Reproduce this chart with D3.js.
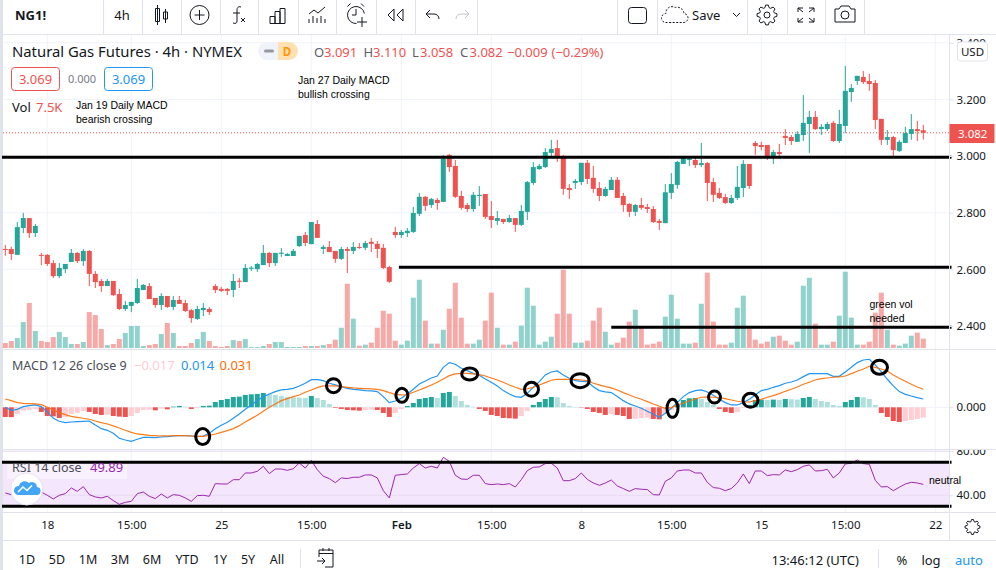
<!DOCTYPE html>
<html lang="en">
<head>
<meta charset="UTF-8">
<title>Natural Gas Futures 4h</title>
<script src="https://d3js.org/d3.v7.min.js"></script>
<style>
  html, body { margin: 0; padding: 0; background: #fff; overflow: hidden; }
  svg { display: block; }
  text { font-family: "Noto Sans", sans-serif; fill: #131722; }
  .note { font-family: "Liberation Sans", sans-serif; font-size: 10.5px; fill: #000; }
</style>
</head>
<body>
<svg id="chart" width="996" height="570"></svg>
<script>
// candles
const opens = [2.672,2.672,2.651,2.746,2.781,2.728,2.651,2.651,2.622,2.576,
  2.601,2.626,2.658,2.629,2.665,2.584,2.559,2.541,2.559,2.513,
  2.460,2.471,2.481,2.527,2.541,2.499,2.474,2.506,2.467,2.492,
  2.481,2.456,2.425,2.456,2.460,2.541,2.531,2.531,2.527,2.560,
  2.555,2.602,2.601,2.615,2.658,2.622,2.655,2.647,2.647,2.682,
  2.721,2.689,2.760,2.672,2.679,2.665,2.637,2.672,2.665,2.679,
  2.676,2.697,2.690,2.676,2.608,2.732,2.721,2.728,2.732,2.796,
  2.856,2.827,2.845,2.838,3.004,2.965,2.859,2.827,2.813,2.859,
  2.866,2.788,2.771,2.778,2.767,2.781,2.757,2.803,2.905,2.954,
  2.961,3.011,3.028,2.993,2.887,2.905,2.908,2.976,2.923,2.887,
  2.859,2.880,2.916,2.859,2.831,2.803,2.827,2.820,2.813,2.771,
  2.763,2.870,2.898,2.972,2.986,2.986,2.968,2.975,2.908,2.870,
  2.855,2.834,2.852,2.887,2.972,3.046,3.039,3.039,2.997,3.014,
  3.071,3.067,3.050,3.074,3.113,3.138,3.095,3.095,3.117,3.053,
  3.106,3.226,3.265,3.279,3.265,3.258,3.131,3.057,3.067,3.018,
  3.046,3.078,3.095,3.091];
const highs = [2.686,2.680,2.767,2.799,2.781,2.760,2.658,2.654,2.633,2.622,
  2.619,2.672,2.661,2.672,2.668,2.594,2.566,2.566,2.559,2.531,
  2.488,2.485,2.566,2.548,2.552,2.499,2.516,2.506,2.506,2.506,
  2.492,2.460,2.471,2.481,2.467,2.548,2.538,2.534,2.584,2.569,
  2.619,2.612,2.622,2.686,2.661,2.658,2.675,2.658,2.672,2.718,
  2.732,2.767,2.774,2.686,2.700,2.665,2.679,2.679,2.697,2.693,
  2.700,2.711,2.700,2.690,2.612,2.750,2.739,2.746,2.820,2.870,
  2.859,2.852,2.852,3.004,3.007,2.986,2.877,2.834,2.873,2.894,
  2.866,2.841,2.806,2.778,2.792,2.781,2.827,2.912,2.979,2.972,
  3.028,3.057,3.057,3.004,2.901,2.919,2.976,2.986,2.965,2.908,
  2.891,2.926,2.926,2.870,2.834,2.831,2.852,2.831,2.824,2.778,
  2.901,2.940,2.983,2.997,2.997,2.997,3.046,2.979,2.923,2.887,
  2.866,2.863,2.965,2.986,2.972,3.053,3.050,3.039,3.021,3.043,
  3.095,3.074,3.088,3.215,3.159,3.159,3.113,3.120,3.124,3.163,
  3.318,3.254,3.283,3.300,3.290,3.268,3.131,3.092,3.071,3.057,
  3.103,3.148,3.124,3.110];
const lows = [2.648,2.633,2.651,2.728,2.711,2.714,2.615,2.612,2.569,2.569,
  2.587,2.626,2.622,2.612,2.541,2.534,2.520,2.541,2.506,2.456,
  2.453,2.449,2.478,2.527,2.495,2.464,2.456,2.464,2.456,2.478,
  2.449,2.411,2.421,2.435,2.439,2.516,2.520,2.509,2.502,2.534,
  2.555,2.594,2.591,2.615,2.608,2.612,2.644,2.647,2.647,2.679,
  2.682,2.689,2.711,2.654,2.661,2.623,2.633,2.587,2.654,2.672,
  2.668,2.661,2.640,2.601,2.552,2.711,2.711,2.714,2.728,2.788,
  2.806,2.817,2.810,2.838,2.944,2.852,2.810,2.803,2.803,2.824,
  2.778,2.746,2.757,2.760,2.764,2.732,2.753,2.774,2.898,2.951,
  2.958,3.000,2.979,2.863,2.848,2.884,2.898,2.901,2.870,2.841,
  2.856,2.880,2.852,2.803,2.785,2.788,2.810,2.799,2.764,2.739,
  2.763,2.848,2.884,2.972,2.965,2.958,2.961,2.841,2.838,2.848,
  2.831,2.831,2.845,2.855,2.884,3.004,3.021,2.986,2.972,2.993,
  3.039,3.039,3.050,3.053,3.011,3.092,3.074,3.088,3.050,3.046,
  3.081,3.191,3.251,3.254,3.230,3.095,3.039,3.039,3.000,3.014,
  3.046,3.057,3.053,3.058];
const closes = [2.669,2.654,2.749,2.781,2.728,2.753,2.648,2.619,2.576,2.605,
  2.619,2.658,2.629,2.665,2.584,2.555,2.541,2.559,2.509,2.460,
  2.474,2.485,2.534,2.545,2.495,2.474,2.506,2.467,2.492,2.478,
  2.453,2.428,2.460,2.464,2.449,2.527,2.524,2.524,2.559,2.556,
  2.605,2.606,2.619,2.658,2.622,2.658,2.659,2.654,2.665,2.718,
  2.693,2.767,2.711,2.679,2.661,2.637,2.672,2.665,2.679,2.676,
  2.693,2.690,2.672,2.605,2.556,2.721,2.732,2.736,2.799,2.856,
  2.824,2.848,2.834,2.990,2.961,2.856,2.817,2.813,2.863,2.863,
  2.785,2.774,2.781,2.767,2.781,2.757,2.806,2.908,2.961,2.965,
  3.014,3.025,2.997,2.884,2.880,2.912,2.976,2.919,2.884,2.859,
  2.884,2.916,2.852,2.827,2.803,2.827,2.817,2.813,2.767,2.764,
  2.872,2.901,2.979,2.993,2.990,2.968,2.975,2.905,2.863,2.852,
  2.834,2.852,2.891,2.972,2.894,3.035,3.032,2.997,3.014,3.007,
  3.064,3.053,3.078,3.117,3.138,3.095,3.103,3.113,3.053,3.113,
  3.230,3.240,3.283,3.261,3.254,3.127,3.057,3.067,3.021,3.050,
  3.081,3.095,3.088,3.082];
// volume in thousands
const volumes = [4.0,5.6,8.0,20.9,36.2,13.7,5.6,4.8,8.8,12.9,
  8.8,3.2,3.2,4.8,28.9,26.5,15.3,2.4,3.2,7.2,
  12.1,17.7,17.7,1.6,2.4,3.2,11.3,20.1,12.1,1.6,
  1.6,4.0,7.2,12.9,5.6,1.6,0.8,1.6,6.4,5.6,
  7.2,0.8,0.8,1.6,3.2,4.8,4.8,0.8,0.8,0.8,
  1.6,1.6,1.6,2.4,3.2,6.7,16.3,51.7,23.6,1.9,
  2.7,4.3,16.3,30.0,27.6,5.9,2.7,5.9,40.5,54.9,
  22.0,3.5,3.5,14.7,31.6,52.5,24.4,3.5,3.5,6.7,
  22.0,44.5,16.3,2.7,2.7,5.1,18.0,48.5,34.0,2.7,
  5.1,9.1,27.6,63.0,27.6,4.3,4.3,5.9,22.0,32.4,
  13.1,2.7,4.3,8.3,21.2,30.8,16.3,2.7,3.5,5.1,
  25.2,42.9,23.6,3.5,3.5,4.3,35.6,60.6,21.2,2.7,
  2.7,4.3,32.4,42.1,15.5,6.7,3.5,5.1,9.1,9.9,
  5.9,2.7,5.1,50.1,56.5,19.6,2.7,2.7,5.1,26.0,
  61.4,24.4,2.7,2.7,5.1,28.4,44.5,14.7,2.7,1.9,
  3.5,9.9,12.3,7.5];
const macdLine = [0,-.0051,-.0034,.0011,.0028,.0040,.0011,-.0079,-.0186,-.0237,
  -.0260,-.0249,-.0243,-.0237,-.0232,-.0299,-.0362,-.0390,-.0441,-.0525,
  -.0554,-.0576,-.0542,-.0509,-.0509,-.0514,-.0503,-.0497,-.0486,-.0480,
  -.0480,-.0486,-.0497,-.0486,-.0441,-.0362,-.0305,-.0254,-.0186,-.0113,
  -.0034,.0040,.0113,.0181,.0226,.0266,.0294,.0305,.0322,.0362,
  .0407,.0469,.0469,.0452,.0407,.0379,.0350,.0322,.0305,.0294,
  .0283,.0277,.0266,.0181,.0079,.0107,.0153,.0226,.0305,.0396,
  .0446,.0497,.0531,.0678,.0757,.0729,.0661,.0622,.0576,.0542,
  .0480,.0424,.0362,.0283,.0226,.0181,.0170,.0237,.0339,.0435,
  .0548,.0599,.0616,.0548,.0492,.0452,.0441,.0435,.0350,.0283,
  .0260,.0249,.0181,.0113,.0057,.0023,-.0017,-.0068,-.0119,-.0170,
  -.0102,-.0017,.0079,.0181,.0249,.0283,.0294,.0260,.0203,.0136,
  .0079,.0040,.0040,.0079,.0136,.0209,.0283,.0305,.0339,.0367,
  .0407,.0429,.0463,.0520,.0571,.0571,.0571,.0571,.0525,.0525,
  .0599,.0678,.0757,.0802,.0814,.0718,.0605,.0475,.0362,.0266,
  .0220,.0192,.0164,.0141];
const signalLine = [.0141,.0113,.0079,.0068,.0062,.0057,.0045,0,-.0045,-.0090,
  -.0124,-.0153,-.0170,-.0186,-.0203,-.0232,-.0260,-.0283,-.0316,-.0350,
  -.0390,-.0424,-.0452,-.0463,-.0475,-.0480,-.0486,-.0486,-.0480,-.0480,
  -.0480,-.0486,-.0492,-.0492,-.0475,-.0452,-.0424,-.0396,-.0362,-.0311,
  -.0249,-.0192,-.0136,-.0068,0,.0057,.0113,.0147,.0181,.0209,
  .0254,.0294,.0333,.0362,.0362,.0362,.0350,.0339,.0328,.0322,
  .0316,.0311,.0305,.0283,.0249,.0220,.0209,.0215,.0254,.0294,
  .0333,.0379,.0424,.0480,.0537,.0565,.0576,.0576,.0565,.0554,
  .0531,.0497,.0463,.0424,.0379,.0339,.0305,.0311,.0339,.0379,
  .0418,.0458,.0475,.0475,.0475,.0475,.0463,.0452,.0407,.0379,
  .0350,.0328,.0294,.0249,.0209,.0170,.0136,.0096,.0057,.0017,
  -.0017,-.0006,.0040,.0068,.0107,.0141,.0170,.0175,.0170,.0164,
  .0147,.0124,.0102,.0090,.0090,.0113,.0136,.0170,.0198,.0232,
  .0271,.0305,.0345,.0390,.0424,.0463,.0486,.0497,.0509,.0514,
  .0531,.0571,.0610,.0650,.0695,.0678,.0650,.0616,.0548,.0492,
  .0441,.0390,.0345,.0305];
const histogram = [-.0164,-.0167,-.0113,-.0057,-.0045,-.0034,-.0079,-.0147,-.0153,-.0181,
  -.0164,-.0113,-.0096,-.0062,-.0079,-.0113,-.0130,-.0124,-.0147,-.0158,
  -.0164,-.0147,-.0096,-.0045,-.0040,-.0051,-.0023,-.0034,.0011,.0023,
  .0011,-.0028,-.0011,.0023,.0028,.0090,.0124,.0141,.0175,.0181,
  .0209,.0220,.0226,.0243,.0226,.0209,.0192,.0175,.0170,.0164,
  .0158,.0192,.0158,.0124,.0057,-.0011,-.0028,-.0045,-.0051,-.0057,
  -.0045,-.0040,-.0045,-.0096,-.0164,-.0096,-.0028,.0023,.0073,.0141,
  .0158,.0175,.0158,.0243,.0260,.0192,.0107,.0040,.0011,-.0028,
  -.0062,-.0130,-.0147,-.0181,-.0186,-.0192,-.0147,-.0062,.0040,.0090,
  .0141,.0175,.0170,.0073,.0023,.0006,-.0006,-.0028,-.0079,-.0096,
  -.0130,-.0113,-.0130,-.0147,-.0198,-.0192,-.0181,-.0175,-.0198,-.0203,
  -.0113,-.0045,.0040,.0124,.0153,.0158,.0141,.0090,.0040,-.0028,
  -.0079,-.0096,-.0079,-.0011,.0040,.0124,.0130,.0124,.0130,.0124,
  .0141,.0136,.0130,.0158,.0175,.0141,.0107,.0090,.0040,.0023,
  .0090,.0124,.0175,.0170,.0141,.0040,-.0096,-.0164,-.0232,-.0249,
  -.0232,-.0215,-.0198,-.0175];
const rsiValues = [42.1,40.6,42.7,45.2,46.7,44.2,43.0,40.0,36.7,40.0,
  41.5,46.7,43.6,47.9,40.6,38.5,37.6,39.1,35.2,31.8,
  33.6,34.5,41.5,43.0,39.1,37.0,41.2,37.6,40.6,40.0,
  37.6,34.5,39.7,40.0,39.1,50.6,50.3,50.3,54.2,54.2,
  60.3,60.3,61.8,66.4,59.7,63.9,63.9,62.7,64.2,69.4,
  64.8,71.8,63.3,57.3,55.2,51.5,55.8,55.2,56.4,56.4,
  58.5,58.5,55.8,44.2,37.6,58.2,58.8,59.4,64.8,68.8,
  64.8,66.4,64.8,74.5,70.9,58.2,54.8,54.5,58.2,58.2,
  50.6,49.7,50.3,49.7,50.6,47.6,54.2,62.4,65.5,65.8,
  68.8,69.1,64.8,53.3,53.3,55.2,60.3,54.5,51.2,49.1,
  51.2,53.9,48.5,46.1,43.6,46.1,45.5,45.2,40.6,40.3,
  52.7,55.8,62.1,63.0,63.0,60.3,60.3,51.8,47.0,46.4,
  44.2,46.1,51.2,59.4,50.6,62.1,62.1,57.9,58.8,58.5,
  63.0,61.5,63.3,66.4,67.6,62.1,62.4,63.6,55.8,60.3,
  68.5,69.1,72.1,68.8,68.2,53.6,47.6,47.9,44.2,47.3,
  50.3,51.8,51.2,49.9];

const priceTicks = [2.4,2.6,2.8,3.0,3.2,3.4];
const rsiTicks = [40,80];
const timeTickBars = [7,21,36,51,66,81,96,111,126,140,155];
const timeTickLabels = ["18","15:00","25","15:00","Feb","15:00","8","15:00","15","15:00","22"];
const lastPrice = 3.082;

// hand drawn levels and the rings on the MACD pane
const levelPrices = [2.996,2.607,2.396];
const levelStartBars = [-0.55,65.6,101];
const ringBars = [32.9,54.7,66.1,77.4,87.7,95.8,111.2,118.2,124.2,145.7];
const ringValues = [-.0497,.0367,.0203,.0565,.0305,.0452,-.0017,.0175,.0119,.0678];
const ringXRadii = [7,7,6,8,7,9,5.5,6,7.5,8];
const ringYRadii = [8,7,7,6,7,7,9,6,7,7];

const rangeLabels = ["1D","5D","1M","3M","6M","YTD","1Y","5Y","All"];
const rangeCentres = [27,57,88,120,152,187,220,248,277];

const up = "#26a69a", down = "#ef5350";
const gridCol = "#f0f3fa", sepCol = "#e0e3eb", ink = "#131722";
const axisX = 949.5;

const svg = d3.select("#chart");
const bars = d3.range(closes.length);

const x = d3.scaleLinear().domain([0,153]).range([5.3,923.3]);
const priceY = d3.scaleLinear().domain([2.4,3.4]).range([326,42.7]);
const volY = d3.scaleLinear().domain([0,63]).range([348,269.7]);
const macdY = d3.scaleLinear().domain([-.1,.1]).range([466.3,348.3]);
const rsiY = d3.scaleLinear().domain([30,70]).range([506.3,462.3]);

function text(s, px, py, size, opts) {
  opts = opts || {};
  return svg.append("text").attr("x", px).attr("y", py).attr("dy", "0.35em")
    .attr("font-size", size).attr("text-anchor", opts.anchor || "start")
    .attr("font-weight", opts.weight || null).style("fill", opts.fill || ink).text(s);
}

svg.append("defs").append("clipPath").attr("id", "rsiAxisClip")
  .append("rect").attr("x", axisX).attr("y", 450).attr("width", 47).attr("height", 62);

// left edge
svg.append("rect").attr("width", 3).attr("height", 570).attr("fill", sepCol);

// grid
const grid = svg.append("g").attr("stroke", gridCol).attr("stroke-width", 1);
timeTickBars.forEach(b => grid.append("line").attr("x1", x(b)).attr("x2", x(b)).attr("y1", 35).attr("y2", 512));
priceTicks.forEach(p => grid.append("line").attr("x1", 3).attr("x2", axisX).attr("y1", priceY(p)).attr("y2", priceY(p)));
grid.append("line").attr("x1", 3).attr("x2", axisX).attr("y1", macdY(0)).attr("y2", macdY(0));
rsiTicks.forEach(v => grid.append("line").attr("x1", 3).attr("x2", axisX).attr("y1", rsiY(v)).attr("y2", rsiY(v)));

// volume
svg.append("g").selectAll("rect").data(bars).join("rect")
  .attr("x", i => x(i) - 2.5).attr("width", 5)
  .attr("y", i => volY(volumes[i])).attr("height", i => volY(0) - volY(volumes[i]))
  .attr("fill", i => closes[i] >= opens[i] ? up : down).attr("opacity", .5);

// last price dotted line
svg.append("line").attr("x1", 3).attr("x2", axisX).attr("y1", priceY(lastPrice)).attr("y2", priceY(lastPrice))
  .attr("stroke", down).attr("stroke-dasharray", "1 2");

// candles
const candle = svg.append("g").selectAll("g").data(bars).join("g")
  .attr("fill", i => closes[i] >= opens[i] ? up : down)
  .attr("stroke", i => closes[i] >= opens[i] ? up : down);
candle.append("line").attr("x1", i => x(i)).attr("x2", i => x(i))
  .attr("y1", i => priceY(highs[i])).attr("y2", i => priceY(lows[i]));
candle.append("rect").attr("x", i => x(i) - 2.5).attr("width", 5).attr("stroke", "none")
  .attr("y", i => priceY(Math.max(opens[i], closes[i])))
  .attr("height", i => Math.max(1, Math.abs(priceY(opens[i]) - priceY(closes[i]))));

// macd pane
svg.append("g").selectAll("rect").data(bars).join("rect")
  .attr("x", i => x(i) - 2.5).attr("width", 5)
  .attr("y", i => Math.min(macdY(0), macdY(histogram[i])))
  .attr("height", i => Math.abs(macdY(histogram[i]) - macdY(0)))
  .attr("fill", i => {
    const prev = i ? histogram[i-1] : histogram[i];
    if (histogram[i] >= 0) return histogram[i] >= prev ? up : "#b2dfdb";
    return histogram[i] > prev ? "#ffcdd2" : down;
  });
const lineFor = d3.line().x((d,i) => x(i)).y(d => macdY(d));
svg.append("path").attr("d", lineFor(macdLine)).attr("fill", "none").attr("stroke", "#2196f3").attr("stroke-width", 1.2);
svg.append("path").attr("d", lineFor(signalLine)).attr("fill", "none").attr("stroke", "#ff6d00").attr("stroke-width", 1.2).attr("opacity", .9);
svg.append("g").selectAll("ellipse").data(ringBars).join("ellipse")
  .attr("cx", (b) => x(b)).attr("cy", (b,i) => macdY(ringValues[i]))
  .attr("rx", (b,i) => ringXRadii[i]).attr("ry", (b,i) => ringYRadii[i])
  .attr("fill", "none").attr("stroke", "#000").attr("stroke-width", 3);

// rsi pane
svg.append("rect").attr("x", 3).attr("width", axisX - 3).attr("y", rsiY(70)).attr("height", rsiY(30) - rsiY(70)).attr("fill", "#f4e6fc");
rsiTicks.forEach(v => svg.append("line").attr("x1", 3).attr("x2", axisX).attr("y1", rsiY(v)).attr("y2", rsiY(v)).attr("stroke", "#e6dcf0"));
svg.append("path").attr("d", d3.line().x((d,i) => x(i)).y(d => rsiY(d))(rsiValues))
  .attr("fill", "none").attr("stroke", "#9c27b0").attr("stroke-width", 1);

// hand drawn black levels
levelPrices.forEach((p,k) => svg.append("line").attr("x1", x(levelStartBars[k])).attr("x2", 951.5)
  .attr("y1", priceY(p)).attr("y2", priceY(p)).attr("stroke", "#000").attr("stroke-width", 3));
[70,30].forEach(v => svg.append("line").attr("x1", 2).attr("x2", 951.5)
  .attr("y1", rsiY(v)).attr("y2", rsiY(v)).attr("stroke", "#000").attr("stroke-width", 3));

// pane separators and price axes
const sep = svg.append("g").attr("stroke", sepCol).attr("stroke-width", 1);
[349.5,449.5,512.5].forEach(y => sep.append("line").attr("x1", 3).attr("x2", 996).attr("y1", y).attr("y2", y));
sep.append("line").attr("x1", axisX).attr("x2", axisX).attr("y1", 34).attr("y2", 541);

function styleAxis(g) {
  g.select(".domain").remove();
  g.selectAll("line").attr("stroke", sepCol);
  g.selectAll("text").attr("font-size", 11.5).style("fill", ink);
}
svg.append("g").attr("transform", `translate(${axisX},0)`)
  .call(d3.axisRight(priceY).tickValues(priceTicks).tickFormat(d3.format(".3f")).tickSize(4)).call(styleAxis);
svg.append("g").attr("transform", `translate(${axisX},0)`)
  .call(d3.axisRight(macdY).tickValues([0]).tickFormat(d3.format(".3f")).tickSize(4)).call(styleAxis);
svg.append("g").attr("clip-path", "url(#rsiAxisClip)").append("g").attr("transform", `translate(${axisX},0)`)
  .call(d3.axisRight(rsiY).tickValues(rsiTicks).tickFormat(d3.format(".2f")).tickSize(4)).call(styleAxis);

// time axis
svg.append("g").attr("transform", "translate(0,521)")
  .call(d3.axisBottom(x).tickValues(timeTickBars).tickFormat((d,i) => timeTickLabels[i]).tickSize(0).tickPadding(0))
  .call(g => { g.select(".domain").remove();
    g.selectAll("text").attr("font-size", 11.5).style("fill", ink).attr("dy", "0.71em")
      .attr("font-weight", (d,i) => timeTickLabels[i] === "Feb" ? 600 : null); });

// price label and USD badge
svg.append("rect").attr("x", axisX).attr("y", 124).attr("width", 45).attr("height", 19).attr("fill", down);
text("3.082", 958, 133.7, 11.5, {fill: "#fff"});
svg.append("rect").attr("x", 957.5).attr("y", 42).attr("width", 30).attr("height", 19).attr("rx", 3).attr("fill", "#fff").attr("stroke", sepCol);
text("USD", 972.5, 51.5, 11.5, {anchor: "middle"});

// header legend
text("Natural Gas Futures · 4h · NYMEX", 12, 52, 14.85);
svg.append("path").attr("d", "M278,42H267a9,9 0 0 0 0,18H278Z").attr("fill", "#f0f3fa");
svg.append("path").attr("d", "M278,42H289a9,9 0 0 1 0,18H278Z").attr("fill", "#ffe0b2");
svg.append("rect").attr("x", 264).attr("y", 49.5).attr("width", 10).attr("height", 3).attr("rx", 1.5).attr("fill", "#9598a1");
text("D", 287, 51.5, 11.5, {anchor: "middle", fill: "#ff9800", weight: 700});
[["O",314],["H",363.5],["L",412],["C",460]].forEach(d => text(d[0], d[1], 52, 13, {fill: "#5d606b"}));
[["3.091",324],["3.110",373],["3.058",420],["3.082",469.5],["−0.009",507],["(−0.29%)",551.5]]
  .forEach(d => text(d[0], d[1], 52, 13, {fill: down}));

svg.append("rect").attr("x", 11.5).attr("y", 67.5).attr("width", 48).attr("height", 23).attr("rx", 3).attr("fill", "#fff").attr("stroke", down);
text("3.069", 35.5, 79, 13, {anchor: "middle", fill: down});
text("0.000", 82, 79, 11, {anchor: "middle", fill: "#787b86"});
svg.append("rect").attr("x", 104.5).attr("y", 67.5).attr("width", 48).attr("height", 23).attr("rx", 3).attr("fill", "#fff").attr("stroke", "#2196f3");
text("3.069", 128.5, 79, 13, {anchor: "middle", fill: "#2196f3"});
text("Vol", 12, 107, 13);
text("7.5K", 36, 107, 13, {fill: down});

// the chart's own notes
function note(s, px, py) { svg.append("text").attr("class", "note").attr("x", px).attr("y", py).attr("dy", "0.35em").text(s); }
note("Jan 19 Daily MACD", 76, 105);
note("bearish crossing", 76, 119);
note("Jan 27 Daily MACD", 298, 80);
note("bullish crossing", 298, 94);
note("green vol", 869.5, 304.5);
note("needed", 869.5, 318.5);
note("neutral", 929, 480.5);

// indicator legends
text("MACD 12 26 close 9", 12, 365.5, 12.5, {fill: "#4a4d57"});
text("−0.017", 134, 365.5, 13, {fill: "#ffcdd2"});
text("0.014", 181, 365.5, 13, {fill: "#2196f3"});
text("0.031", 219.5, 365.5, 13, {fill: "#ff6d00"});
svg.append("rect").attr("x", 7).attr("y", 464).attr("width", 120).attr("height", 15).attr("fill", "#fff").attr("opacity", .45);
text("RSI 14 close", 12, 467.5, 12.5, {fill: "#4a4d57"});
text("49.89", 90, 467.5, 13, {fill: "#9c27b0"});

// logo bubble
svg.append("circle").attr("cx", 26.7).attr("cy", 489).attr("r", 16).attr("fill", "#fff").attr("stroke", "#e6e3ee");
svg.append("path").attr("d", "M18,495a4.5,4.5 0 0 1 1,-9a6,6 0 0 1 10,-3a5,5 0 0 1 8,4a4,4 0 0 1 -1,8Z").attr("fill", "#42a5f5");
svg.append("path").attr("d", "M18,492l5,-5l4,3.5l5,-5").attr("fill", "none").attr("stroke", "#fff").attr("stroke-width", 1.6);

// top toolbar
svg.append("rect").attr("x", 3).attr("width", 993).attr("height", 34).attr("fill", "#fff");
svg.append("line").attr("x1", 3).attr("x2", 996).attr("y1", 34.5).attr("y2", 34.5).attr("stroke", sepCol);
[103,142,181,220,258,298,336,376,415,477,617,657,747,787,825,864].forEach(px =>
  svg.append("line").attr("x1", px + .5).attr("x2", px + .5).attr("y1", 0).attr("y2", 34).attr("stroke", sepCol));
text("NG1!", 15, 15, 13, {weight: 700});
text("4h", 122, 15, 13, {anchor: "middle"});

function icon(d, opts) {
  opts = opts || {};
  return svg.append("path").attr("d", d).attr("fill", opts.fill || "none")
    .attr("stroke", opts.stroke || ink).attr("stroke-width", opts.width || 1)
    .attr("stroke-dasharray", opts.dash || null);
}
// toothed wheel for the settings icons
function gearPath(cx, cy, rOut, rIn, teeth) {
  const pts = [];
  d3.range(teeth).forEach(k => {
    const a = k * 2 * Math.PI / teeth, w = Math.PI / teeth * .55;
    [[rIn,-w*1.4],[rOut,-w*.6],[rOut,w*.6],[rIn,w*1.4]].forEach(p =>
      pts.push([cx + p[0]*Math.cos(a+p[1]), cy + p[0]*Math.sin(a+p[1])]));
  });
  return d3.line()(pts) + "Z";
}
icon("M157.5,5V25M155.5,8.5h4v13h-4ZM165.5,9V23M163.5,12h4v7h-4Z");
icon("M209,15a9.5,9.5 0 1 1 -19,0a9.5,9.5 0 1 1 19,0M199.5,10v10M194.5,15h10");
icon("M241,7c-3,-1 -4,1 -4,3v11c0,2 -1,3 -4,2M233,13h7M241,18l4,4M245,18l-4,4");
icon("M270,23.5v-7h5v7M275,23.5v-12h5v12M280,23.5v-15h5v15ZM270,23.5h15");
icon("M309,23v-4M313,23v-7M317,23v-5M321,23v-7M325,23v-4M309,14l5,-4l4,3l7,-6");
icon("M364.4,13.5A8.5,8.5 0 1 0 356.5,23.5M356,9v6h-4M347.5,6.5l3,-3M361,3.5l3,3M362,17v10M357,22h10");
icon("M394,9l-6,6l6,6ZM403,9l-6,6l6,6Z");
icon("M426,14h8c3,0 5,2 5,5M426,14l4,-4M426,14l4,4");
icon("M469,14h-8c-3,0 -5,2 -5,5M469,14l-4,-4M469,14l-4,4", {stroke: "#c1c4cd"});
svg.append("rect").attr("x", 628.5).attr("y", 7.5).attr("width", 18).attr("height", 16).attr("rx", 3).attr("fill", "none").attr("stroke", ink);
icon("M671,22.5h-5a4.5,4.5 0 0 1 0,-9a6,6 0 0 1 9,-6a7,7 0 0 1 9,6a4.5,4.5 0 0 1 -1,9Z", {dash: "2 1.5"});
text("Save", 692, 15, 13);
icon("M733,13l3.5,3.5l3.5,-3.5");
icon(gearPath(767, 15, 10, 7.5, 8));
svg.append("circle").attr("cx", 767).attr("cy", 15).attr("r", 3).attr("fill", "none").attr("stroke", ink);
icon("M798,12V8h5M798,8l5,4M814,12V8h-5M814,8l-5,4M798,18v4h5M798,22l5,-4M814,18v4h-5M814,22l-5,-4");
icon("M835,9h4l2,-3h8l2,3h4v13h-20Z");
svg.append("circle").attr("cx", 845).attr("cy", 15).attr("r", 4).attr("fill", "none").attr("stroke", ink);

// bottom bar
svg.append("line").attr("x1", 3).attr("x2", 996).attr("y1", 540.5).attr("y2", 540.5).attr("stroke", sepCol);
rangeLabels.forEach((s,i) => text(s, rangeCentres[i], 560, 12.5, {anchor: "middle"}));
svg.append("line").attr("x1", 300.5).attr("x2", 300.5).attr("y1", 549).attr("y2", 568).attr("stroke", sepCol);
icon("M319,557v-7h14v17h-8M319,553.5h14M323,548v3M329,548v3M317,561h8M322,558l3,3l-3,3");
text("13:46:12 (UTC)", 771.5, 560, 13);
svg.append("line").attr("x1", 878.5).attr("x2", 878.5).attr("y1", 549).attr("y2", 568).attr("stroke", sepCol);
text("%", 902, 560, 13, {anchor: "middle"});
text("log", 931, 560, 13, {anchor: "middle"});
text("auto", 969, 560, 13, {anchor: "middle", fill: "#2196f3"});
icon(gearPath(972.5, 527, 7.5, 5.5, 8));
</script>
</body>
</html>
